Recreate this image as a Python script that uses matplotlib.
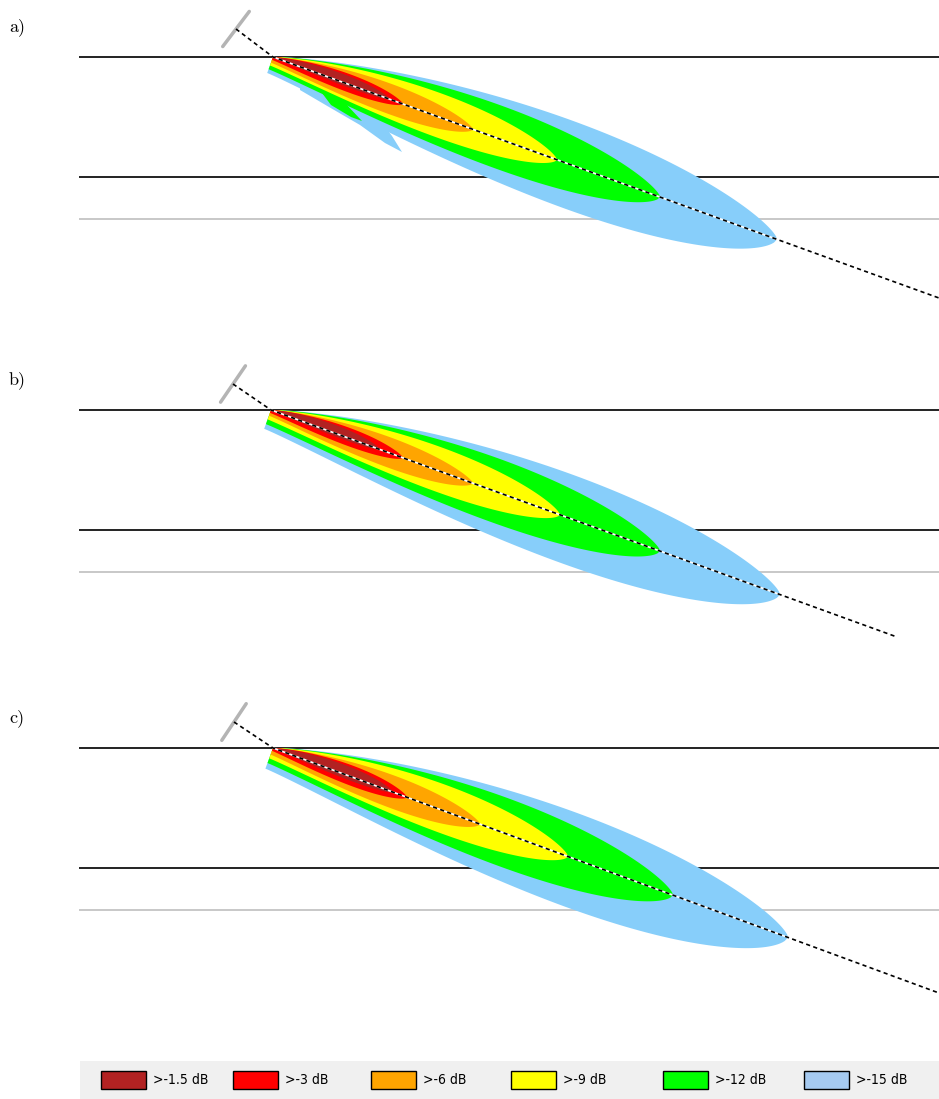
import numpy as np
import matplotlib.pyplot as plt
from matplotlib.patches import Rectangle

W, H = 939, 1099

# level names and colours, strongest first
LEVELS = [">-1.5 dB", ">-3 dB", ">-6 dB", ">-9 dB", ">-12 dB", ">-15 dB"]
FILL_COLORS = ["#b22222", "#ff0000", "#ffa500", "#ffff00", "#00ff00", "#87cefa"]
KEY_COLORS = ["#b22222", "#ff0000", "#ffa500", "#ffff00", "#00ff00", "#a6caf0"]

PANELS = ["a)", "b)", "c)"]
PANEL_TOP = [0, 353, 691]          # figure px of each panel's top
DEPTH_RANGE = (-57, 253)           # depth shown in each panel
BLACK_LAYERS = [0, 120]
GRAY_LAYER = 162

# ray geometry per panel (x, depth)
src_x = [194, 192, 194]
ray_start = [(157, -28), (154, -26), (155, -26)]
ray_end = [(860, 241), (818, 227), (860, 245)]

# contour tips (x) per level, darkred .. blue
tip_x = [
    [311, 324, 394, 478, 581, 698],
    [301, 324, 394, 481, 581, 701],
    [314, 328, 401, 489, 594, 709],
]
# half widths above the ray, below the ray at the source, and lower bulge
width_up = [
    [8, 10, 15, 23, 32, 42],
    [8, 10, 15, 23, 32, 42],
    [9, 11, 16, 25, 34, 44],
]
width_start = [
    [0, 3, 6, 9, 13, 17],
    [0, 3, 6, 10, 15, 20],
    [0, 3, 7, 11, 16, 22],
]
width_bulge = [
    [3, 6, 11, 15, 22, 34],
    [3, 6, 11, 15, 22, 34],
    [4, 7, 12, 16, 24, 36],
]
# extra lobes under the beam in panel a (x, depth)
lobe_a_blue = [(221, 33), (250, 50), (281, 68), (306, 86), (323, 95), (313, 79),
               (307, 71), (340, 76), (340, 50), (221, 22)]
lobe_a_green = [(243, 36), (266, 46), (283, 64), (272, 60), (252, 48)]


def plume(ax, x0, slope, tip, up, start, bulge, color):
    th = np.arctan(slope)
    L = (tip - x0) / np.cos(th)
    u = np.linspace(0, 1, 300)
    f_up = u ** 0.9 * (1 - u) ** 0.7
    f_up /= f_up.max()
    g = u ** 1.2 * (1 - u) ** 0.6
    g /= g.max()
    t_up = -up * f_up
    t_lo = start * (1 - u) ** 0.6 + bulge * g
    s = u * L
    t = np.concatenate([t_up, t_lo[::-1]])
    ss = np.concatenate([s, s[::-1]])
    x = x0 + ss * np.cos(th) - t * np.sin(th)
    y = np.maximum(ss * np.sin(th) + t * np.cos(th), 0)
    ax.fill(x, y, color=color, lw=0, zorder=2)


fig = plt.figure(figsize=(W / 100, H / 100), dpi=100)

for i, name in enumerate(PANELS):
    ph = DEPTH_RANGE[1] - DEPTH_RANGE[0]
    ax = fig.add_axes([79 / W, 1 - (PANEL_TOP[i] + ph) / H, 860 / W, ph / H])
    ax.set_xlim(0, 860)
    ax.set_ylim(DEPTH_RANGE[1], DEPTH_RANGE[0])
    ax.axis("off")

    for d in BLACK_LAYERS:
        ax.axhline(d, color="#222222", lw=1.4, zorder=1)
    ax.axhline(GRAY_LAYER, color="#c8c8c8", lw=1.4, zorder=1)

    slope = ray_end[i][1] / (ray_end[i][0] - src_x[i])
    for k in range(len(LEVELS) - 1, -1, -1):
        if i == 0 and k == 5:
            ax.fill(*zip(*lobe_a_blue), color=FILL_COLORS[5], lw=0, zorder=2)
        if i == 0 and k == 4:
            ax.fill(*zip(*lobe_a_green), color=FILL_COLORS[4], lw=0, zorder=2)
        plume(ax, src_x[i], slope, tip_x[i][k], width_up[i][k],
              width_start[i][k], width_bulge[i][k], FILL_COLORS[k])

    # rays
    xs = [ray_start[i][0], src_x[i], ray_end[i][0]]
    ys = [ray_start[i][1], 0, ray_end[i][1]]
    ax.plot(xs[1:], ys[1:], color="white", lw=1.2, zorder=3)
    ax.plot(xs, ys, color="black", lw=1.2, ls=(0, (2.5, 2)), zorder=4)

    # transducer
    dx, dy = src_x[i] - ray_start[i][0], -ray_start[i][1]
    n = np.hypot(dx, dy)
    px, py = -dy / n * 22, dx / n * 22
    ax.plot([ray_start[i][0] - px, ray_start[i][0] + px],
            [ray_start[i][1] - py, ray_start[i][1] + py],
            color="#b4b4b4", lw=2.5, solid_capstyle="round", zorder=3, clip_on=False)

    fig.text(9 / W, 1 - (PANEL_TOP[i] + 27) / H, name, fontfamily="cmr10",
             fontsize=13, va="center", ha="left")

# legend strip
lax = fig.add_axes([80 / W, 0, 859 / W, 38 / H])
lax.set_xlim(80, 939)
lax.set_ylim(1099, 1061)
lax.set_facecolor("#f0f0f0")
lax.set_xticks([])
lax.set_yticks([])
for sp in lax.spines.values():
    sp.set_visible(False)
key_x = [101, 233, 371, 511, 663, 804]
for k, lab in enumerate(LEVELS):
    lax.add_patch(Rectangle((key_x[k], 1071), 45, 18, facecolor=KEY_COLORS[k],
                            edgecolor="black", lw=1))
    lax.text(key_x[k] + 52, 1080, lab, fontsize=10, va="center", ha="left",
             fontfamily="DejaVu Sans", fontstretch="condensed")

fig.savefig("out.png", dpi=100)
